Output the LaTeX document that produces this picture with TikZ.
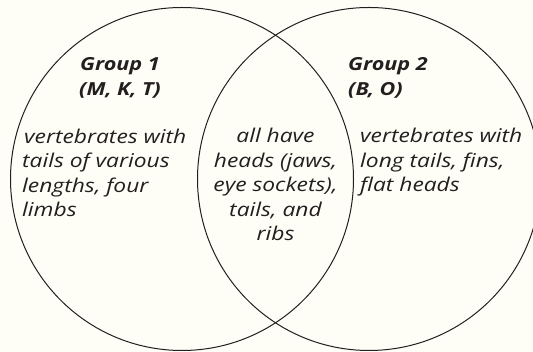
\documentclass[tikz,border=0pt]{standalone}
\usepackage{fontspec}
\setmainfont{Open Sans}[FakeStretch=1.2]
\definecolor{bg}{RGB}{254,254,246}
\definecolor{ink}{RGB}{35,31,32}
\begin{document}
\begin{tikzpicture}[x=1pt,y=1pt,
  ring/.style={circle, draw=ink, line width=1pt, minimum size=343pt, inner sep=0pt},
  head/.style={font=\fontsize{18}{25}\selectfont\bfseries\itshape, text=ink, inner sep=0pt},
  body/.style={font=\fontsize{19}{24.6}\selectfont\itshape, text=ink, inner sep=0pt},
]
\fill[bg] (0,0) rectangle (533,352);
\useasboundingbox (0,0) rectangle (533,352);
\begin{scope}
\clip (0,0) rectangle (533,352);
\node[ring] (A) at (182,173) {};
\node[ring] (B) at (369,173) {};
\end{scope}
\node[head, align=center, anchor=base] (g1) at (120,256) {Group 1\\(M, K, T)};
\node[head, align=left, anchor=base west] (g2) at (348,256) {Group 2\\(B, O)};
\node[body, align=left, anchor=base west] (t1) at (22,135) {\hspace{2pt}vertebrates with\\tails of various\\lengths, four\\limbs};
\node[body, align=center, anchor=base] (t2) at (275.5,111) {all have\\heads (jaws,\\eye sockets),\\tails, and\\ribs};
\node[body, align=left, anchor=base west] (t3) at (360,160) {vertebrates with\\long tails, fins,\\flat heads};
\end{tikzpicture}
\end{document}
